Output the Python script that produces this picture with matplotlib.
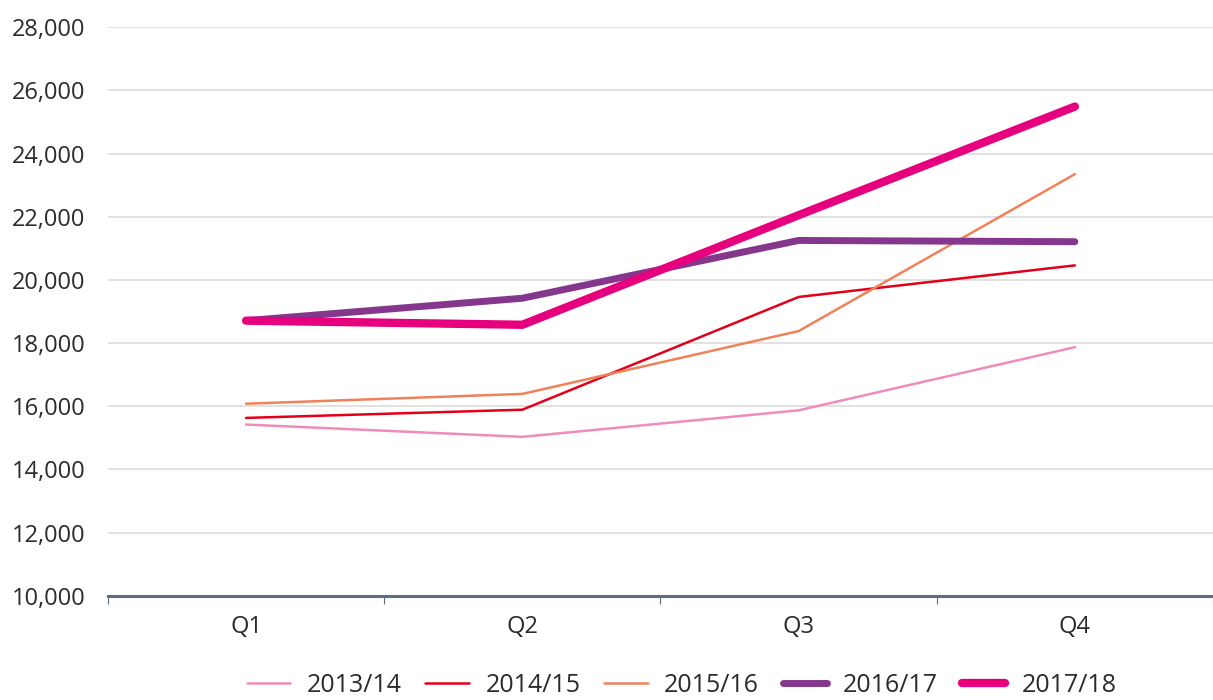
import matplotlib
matplotlib.use("Agg")
import matplotlib.pyplot as plt
from matplotlib.ticker import FuncFormatter

plt.rcParams['font.family'] = ['Open Sans', 'DejaVu Sans']

# Dados
trimestres = ["Q1", "Q2", "Q3", "Q4"]
anos = ["2013/14", "2014/15", "2015/16", "2016/17", "2017/18"]
v_2013 = [15420, 15030, 15870, 17870]
v_2014 = [15630, 15890, 19460, 20460]
v_2015 = [16080, 16390, 18380, 23350]
v_2016 = [18710, 19420, 21250, 21210]
v_2017 = [18710, 18580, 22050, 25490]
series = [v_2013, v_2014, v_2015, v_2016, v_2017]

cores = ["#f08cba", "#e2001a", "#f0825a", "#84378c", "#e6007e"]
larguras = [1.8, 1.8, 1.8, 5.0, 6.0]
texto = "#2b2b2b"

fig = plt.figure(figsize=(12.13, 7.0), dpi=100)
ax = fig.add_axes([0.089, 0.149, 0.911, 0.812])

x = list(range(len(trimestres)))
for valores, nome, cor, lw in zip(series, anos, cores, larguras):
    ax.plot(x, valores, color=cor, lw=lw, label=nome,
            solid_capstyle="round", solid_joinstyle="miter", zorder=3)

# Eixos
ax.set_xlim(-0.5, 3.5)
ax.set_ylim(10000, 28000)
ax.set_yticks(range(10000, 28001, 2000))
ax.yaxis.set_major_formatter(FuncFormatter(lambda v, p: f"{int(v):,}"))
ax.tick_params(axis="y", length=0, pad=16, labelsize=17, labelcolor=texto)

ax.set_xticks([-0.5, 0.5, 1.5, 2.5, 3.5])
ax.set_xticklabels([])
ax.set_xticks(x, minor=True)
ax.set_xticklabels(trimestres, minor=True)
ax.tick_params(axis="x", which="major", length=6, width=0.8, color="#5d6d7e")
ax.tick_params(axis="x", which="minor", length=0, pad=14, labelsize=17, labelcolor=texto)

for lado in ["top", "right", "left"]:
    ax.spines[lado].set_visible(False)
ax.spines["bottom"].set_color("#5d6d7e")
ax.spines["bottom"].set_linewidth(2.2)
ax.spines["bottom"].set_zorder(4)

ax.grid(axis="y", color="#d9d9d9", lw=1.1)
ax.set_axisbelow(True)

leg = fig.legend(loc="center", bbox_to_anchor=(0.562, 0.021), ncol=5,
                 frameon=False, fontsize=18, handlelength=1.75,
                 handletextpad=0.65, columnspacing=0.95)
for t in leg.get_texts():
    t.set_color(texto)

fig.savefig("out.png", dpi=100)
